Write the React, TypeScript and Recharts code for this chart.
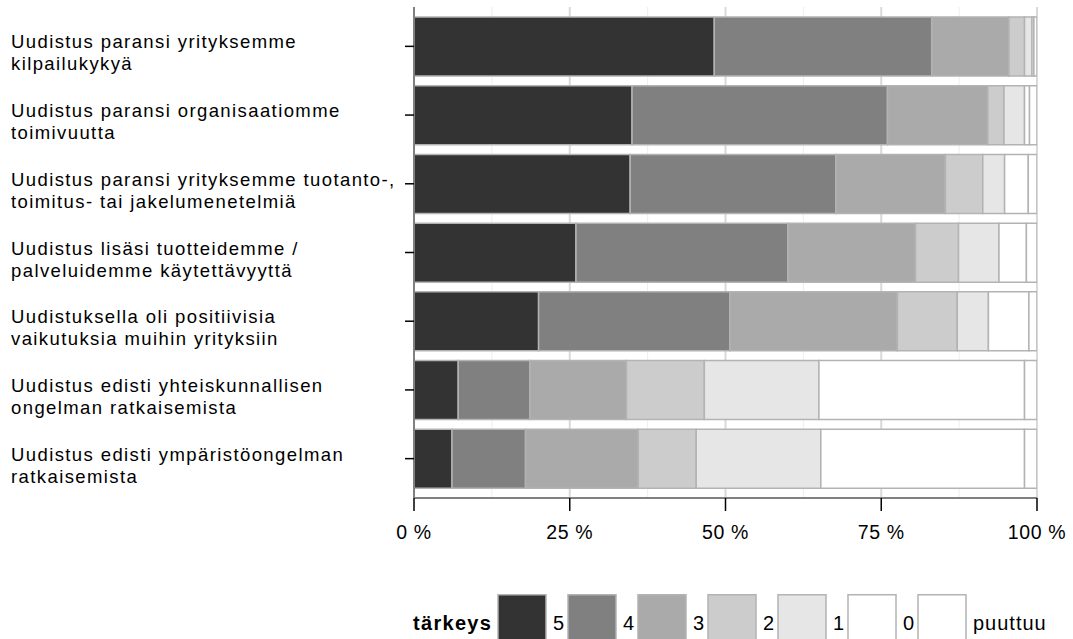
import React from "react";
import {
  BarChart,
  Bar,
  XAxis,
  YAxis,
  CartesianGrid,
  Legend,
} from "recharts";

const labelLines: string[][] = [
  ["Uudistus paransi yrityksemme", "kilpailukykyä"],
  ["Uudistus paransi organisaatiomme", "toimivuutta"],
  ["Uudistus paransi yrityksemme tuotanto-,", "toimitus- tai jakelumenetelmiä"],
  ["Uudistus lisäsi tuotteidemme /", "palveluidemme käytettävyyttä"],
  ["Uudistuksella oli positiivisia", "vaikutuksia muihin yrityksiin"],
  ["Uudistus edisti yhteiskunnallisen", "ongelman ratkaisemista"],
  ["Uudistus edisti ympäristöongelman", "ratkaisemista"],
];

const s5 = [48.2, 35.0, 34.7, 26.0, 20.0, 7.1, 6.1];
const s4 = [34.9, 41.0, 33.0, 34.0, 30.7, 11.5, 11.8];
const s3 = [12.4, 16.1, 17.6, 20.5, 26.9, 15.5, 18.1];
const s2 = [2.5, 2.6, 6.0, 6.9, 9.6, 12.5, 9.3];
const s1 = [1.2, 3.3, 3.5, 6.5, 5.0, 18.4, 20.0];
const s0 = [0.3, 0.8, 3.8, 4.4, 6.5, 33.0, 32.7];
const sp = [0.5, 1.2, 1.4, 1.7, 1.3, 2.0, 2.0];

const seriesKeys = ["5", "4", "3", "2", "1", "0", "puuttuu"];
const seriesValues = [s5, s4, s3, s2, s1, s0, sp];
const seriesColors = ["#333333", "#808080", "#aaaaaa", "#cccccc", "#e6e6e6", "#ffffff", "#ffffff"];

const xTicks = [0, 25, 50, 75, 100];
const minorTicks = [12.5, 37.5, 62.5, 87.5];
const legendTitle = "tärkeys";

const data = labelLines.map((lines, i) => {
  const row: Record<string, any> = { name: lines.join("\n") };
  seriesKeys.forEach((k, j) => {
    row[k] = seriesValues[j][i];
  });
  return row;
});

const FONT = "'Liberation Sans', Arial, sans-serif";
const BAR_STROKE = "#b3b3b3";
const FRAME = "#808080";

const YTick = (props: any) => {
  const { y, payload } = props;
  const lines = String(payload.value).split("\n");
  return (
    <text
      x={11}
      y={y}
      fill="#000"
      fontFamily={FONT}
      fontSize={18.5}
      letterSpacing={1.4}
      textAnchor="start"
    >
      {lines.map((ln, i) => (
        <tspan key={i} x={11} dy={i === 0 ? 2 : 22}>
          {ln}
        </tspan>
      ))}
    </text>
  );
};

const LegendContent = () => {
  return (
    <svg width={1073} height={50} style={{ overflow: "visible", display: "block" }}>
      <text
        x={413}
        y={36}
        fontFamily={FONT}
        fontWeight="bold"
        fontSize={20}
        letterSpacing={1.3}
        fill="#000"
      >
        {legendTitle}
      </text>
      {seriesKeys.map((k, i) => {
        const bx = 498 + i * 70;
        return (
          <g key={k}>
            <rect
              x={bx}
              y={0.75}
              width={48}
              height={50}
              fill={seriesColors[i]}
              stroke={BAR_STROKE}
              strokeWidth={1.5}
            />
            <text
              x={bx + 55}
              y={36}
              fontFamily={FONT}
              fontSize={20}
              letterSpacing={1}
              fill="#000"
            >
              {k}
            </text>
          </g>
        );
      })}
    </svg>
  );
};

const minorGen = (args: any) => {
  const xAxis = args?.xAxis;
  const offset = args?.offset;
  return minorTicks.map((v) => {
    if (xAxis && typeof xAxis.scale === "function") return xAxis.scale(v);
    return offset.left + (v / 100) * offset.width;
  });
};

export default function App() {
  return (
    <div style={{ position: "absolute", left: 0, top: 0, width: 1073, height: 639, background: "#fff" }}>
      <BarChart
        width={1073}
        height={639}
        data={data}
        layout="vertical"
        margin={{ top: 7, right: 36, bottom: 0, left: 0 }}
        barSize={59}
      >
        <CartesianGrid
          horizontal={false}
          vertical={true}
          stroke="#eeeeee"
          strokeWidth={1}
          verticalCoordinatesGenerator={minorGen}
        />
        <CartesianGrid horizontal={false} vertical={true} stroke="#d9d9d9" strokeWidth={2} />
        <XAxis
          type="number"
          domain={[0, 100]}
          ticks={xTicks}
          interval={0}
          allowDataOverflow
          height={96}
          tickSize={13}
          tickMargin={14}
          tickFormatter={(v: number) => `${v} %`}
          tick={{ fill: "#000", fontSize: 19.5, fontFamily: FONT, letterSpacing: 0.6 } as any}
          tickLine={{ stroke: "#000", strokeWidth: 1.5 }}
          axisLine={{ stroke: FRAME, strokeWidth: 2 }}
        />
        <XAxis
          xAxisId="top"
          orientation="top"
          type="number"
          domain={[0, 100]}
          height={0}
          tick={false}
          tickLine={false}
          axisLine={{ stroke: FRAME, strokeWidth: 2 }}
        />
        <YAxis
          type="category"
          dataKey="name"
          width={414}
          padding={{ top: 5, bottom: 5 }}
          tickSize={9}
          interval={0}
          tick={<YTick />}
          tickLine={{ stroke: "#000", strokeWidth: 1.5 }}
          axisLine={{ stroke: FRAME, strokeWidth: 2 }}
        />
        <YAxis
          yAxisId="right"
          orientation="right"
          type="category"
          dataKey="name"
          width={0}
          padding={{ top: 5, bottom: 5 }}
          tick={false}
          tickLine={false}
          axisLine={{ stroke: FRAME, strokeWidth: 2 }}
        />
        {seriesKeys.map((k, i) => (
          <Bar
            key={k}
            dataKey={k}
            stackId="a"
            fill={seriesColors[i]}
            stroke={BAR_STROKE}
            strokeWidth={1.5}
            isAnimationActive={false}
          />
        ))}
        <Legend
          verticalAlign="bottom"
          height={45}
          wrapperStyle={{ left: 0, bottom: 0, width: 1073, height: 45 }}
          content={() => <LegendContent />}
        />
      </BarChart>
    </div>
  );
}
